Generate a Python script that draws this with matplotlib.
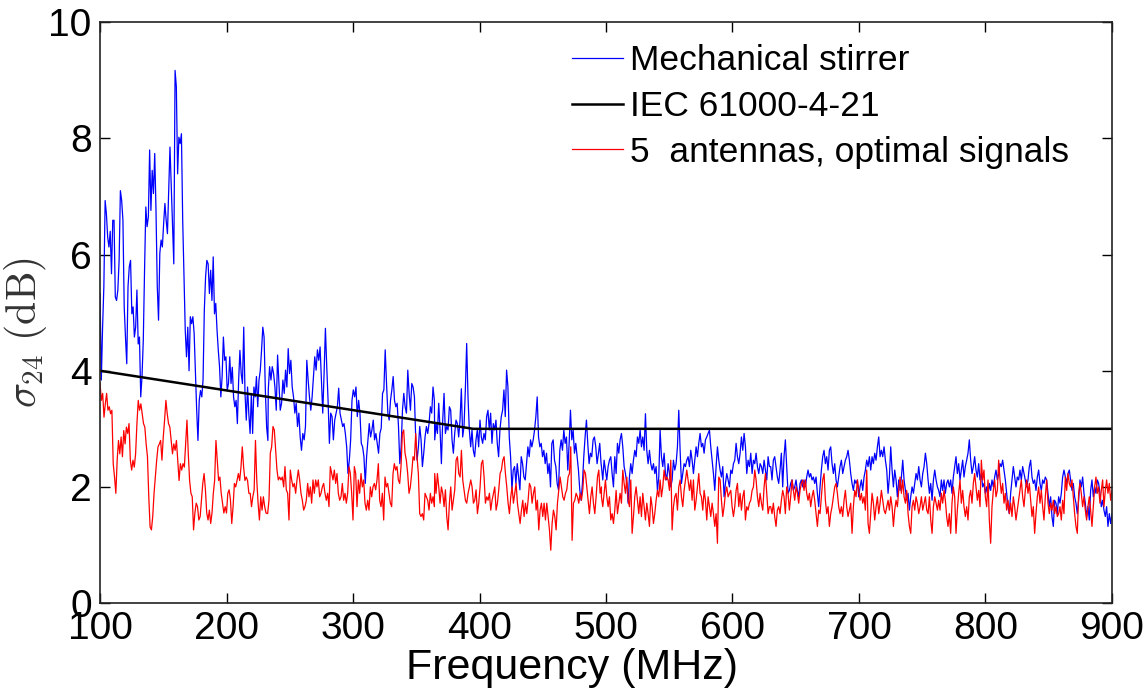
import numpy as np
import matplotlib
matplotlib.use("Agg")
import matplotlib.pyplot as plt

plt.rcParams['font.family'] = ['Liberation Sans', 'DejaVu Sans']
plt.rcParams['mathtext.fontset'] = 'cm'

# readings, split in pieces: (f start MHz, f end MHz, values in dB)
blue_segments = [
    (100.0, 232.7, [5.33, 3.84, 4.75, 5.45, 6.93, 6.7, 6.3, 6.13, 6.4, 5.67, 6.59, 6.59, 5.27, 5.21, 5.39, 5.9, 7.1, 6.93, 6.59, 5.1,
                    4.58, 4.12, 5.45, 5.79, 5.9, 4.98, 5.1, 4.58, 4.75, 5.39, 4.46, 4.58, 3.55, 3.9, 4.52, 5.73, 6.82, 6.48, 6.65, 7.8,
                    6.76, 7.45, 7.05, 7.74, 6.76, 5.45, 4.87, 6.02, 6.25, 6.13, 6.53, 6.88, 6.59, 6.36, 7.1, 7.85, 7.16, 6.48, 5.84, 9.17,
                    8.89, 7.39, 8.02, 7.91, 8.08, 6.59, 5.62, 4.7, 4.24, 4.75, 4.0, 4.93, 4.81, 4.93, 4.64, 3.95, 3.32, 2.8, 3.49, 3.66,
                    3.55, 3.84, 5.04, 5.62, 5.9, 5.84, 5.33, 5.73, 5.21, 5.96, 4.98, 5.16, 4.7, 4.35, 4.06, 3.55, 3.9, 4.58, 4.18, 4.24,
                    3.66, 3.78, 4.24, 3.78, 4.06, 3.55, 3.38, 3.49, 3.09, 3.84, 4.35, 3.95, 3.78, 4.75, 3.61, 3.15, 3.72, 3.26, 2.92, 3.61,
                    2.92, 3.72, 3.55, 3.9, 3.38, 3.84, 4.0, 4.35, 4.75, 4.58, 3.66, 3.03, 2.8]),
    (233.0, 364.3, [3.67, 4.07, 3.84, 4.07, 3.95, 3.72, 3.32, 4.27, 3.78, 3.32, 3.44, 3.84, 3.61, 4.01, 3.72, 4.38, 3.95, 4.18, 3.72, 3.55,
                    3.27, 3.44, 3.04, 3.27, 2.86, 2.63, 2.92, 2.81, 3.04, 4.18, 3.84, 3.55, 3.32, 3.55, 3.9, 4.24, 4.01, 4.36, 4.18, 4.41,
                    3.84, 3.27, 3.95, 4.73, 4.07, 3.49, 2.75, 3.27, 3.21, 2.81, 3.15, 3.27, 3.38, 3.7, 3.27, 3.15, 3.04, 3.09, 2.92, 2.69,
                    2.23, 2.46, 2.81, 3.49, 3.67, 3.55, 3.72, 3.21, 3.49, 3.27, 2.75, 2.69, 2.52, 2.06, 2.52, 2.81, 3.09, 2.86, 2.98, 3.15,
                    2.81, 2.92, 2.75, 2.58, 2.92, 3.01, 3.61, 3.67, 4.36, 3.78, 3.27, 3.15, 3.49, 3.67, 3.9, 3.49, 3.38, 3.44, 3.04, 2.4,
                    2.69, 3.32, 3.61, 3.38, 3.27, 4.01, 3.61, 3.32, 3.78, 3.72, 3.55, 2.81, 2.46, 2.69, 3.04, 2.81, 2.35, 2.58, 2.86, 3.04,
                    2.92, 3.09, 3.38, 3.27, 3.72, 3.49]),
    (364.6, 496.1, [2.81, 3.09, 2.92, 3.44, 2.98, 2.4, 3.15, 3.61, 2.92, 3.04, 2.98, 3.38, 3.32, 2.81, 2.58, 2.92, 3.15, 3.09, 2.86, 3.15,
                    3.69, 2.86, 3.04, 3.67, 4.47, 3.55, 2.98, 2.69, 2.98, 2.63, 2.52, 2.81, 2.98, 2.69, 3.15, 2.86, 2.75, 2.92, 2.81, 3.21,
                    3.32, 2.98, 3.27, 2.75, 3.09, 2.98, 3.15, 2.75, 2.52, 2.98, 3.21, 3.32, 3.67, 3.21, 4.01, 3.72, 2.86, 2.52, 1.95, 2.29,
                    2.35, 2.06, 2.4, 2.17, 1.95, 2.52, 2.4, 2.17, 2.12, 2.4, 2.69, 2.52, 2.81, 2.69, 2.81, 2.98, 3.21, 3.55, 2.86, 2.69,
                    2.75, 2.52, 2.63, 2.4, 2.58, 2.23, 2.4, 2.0, 2.75, 2.81, 2.46, 2.35, 2.06, 1.95, 2.63, 2.81, 2.63, 2.98, 2.75, 2.86,
                    2.29, 2.75, 3.32, 2.81, 2.98, 2.58, 2.75, 2.52, 2.29, 1.95, 1.77, 2.06, 2.52, 2.86, 3.15, 2.75, 2.4, 2.58, 2.52, 2.81,
                    2.86, 2.69, 2.4, 2.58, 2.75, 2.4]),
    (496.4, 629.2, [2.35, 2.12, 2.46, 2.29, 2.12, 2.35, 2.46, 2.52, 2.23, 2.0, 2.52, 2.23, 2.75, 2.58, 2.81, 2.92, 2.69, 2.35, 2.23, 2.06,
                    1.72, 2.17, 2.4, 2.23, 2.46, 2.63, 2.52, 2.86, 2.75, 2.98, 2.69, 2.86, 2.63, 3.26, 2.63, 2.4, 2.63, 2.4, 2.29, 2.4,
                    2.23, 2.35, 1.94, 2.17, 2.98, 2.52, 2.35, 2.58, 2.23, 2.12, 2.4, 2.23, 2.0, 2.12, 2.46, 2.29, 2.4, 2.69, 3.32, 2.63,
                    2.06, 2.23, 2.4, 2.35, 2.46, 2.52, 2.35, 2.63, 2.46, 2.23, 2.46, 2.69, 2.52, 2.75, 2.92, 2.69, 2.75, 2.58, 2.81, 2.86,
                    2.92, 2.98, 2.69, 2.46, 2.23, 1.94, 2.35, 2.69, 2.46, 2.29, 2.17, 2.35, 1.83, 2.06, 2.23, 2.12, 2.0, 2.29, 2.23, 2.4,
                    2.46, 2.75, 2.52, 2.4, 2.58, 2.86, 2.63, 2.92, 2.69, 2.23, 2.46, 2.35, 2.58, 2.23, 2.46, 2.4, 2.58, 2.35, 2.23, 2.4,
                    2.35, 2.23, 2.46, 2.29, 2.12, 2.52, 2.35]),
    (630.2, 762.0, [2.35, 2.12, 2.46, 2.52, 2.35, 2.17, 2.06, 2.29, 2.58, 2.0, 2.52, 2.81, 2.35, 1.89, 1.94, 2.06, 2.12, 1.94, 2.0, 2.12,
                    1.94, 1.83, 2.06, 2.12, 2.0, 2.12, 2.0, 2.17, 2.29, 2.17, 2.23, 2.12, 2.17, 2.06, 2.17, 1.89, 1.66, 2.0, 2.29, 2.52,
                    2.63, 2.4, 2.52, 2.29, 2.63, 2.69, 2.4, 2.23, 2.4, 2.12, 2.0, 2.17, 2.35, 2.46, 2.23, 2.35, 2.46, 2.52, 2.63, 2.46,
                    2.23, 2.06, 1.94, 2.12, 2.06, 2.12, 1.83, 2.0, 2.12, 1.94, 2.17, 2.29, 2.46, 2.35, 2.52, 2.29, 2.52, 2.4, 2.58, 2.46,
                    2.69, 2.86, 2.52, 2.63, 2.52, 2.69, 2.46, 2.29, 1.89, 2.17, 2.69, 2.29, 2.0, 2.29, 2.12, 1.83, 2.12, 1.94, 2.17, 2.46,
                    2.12, 1.94, 1.77, 1.89, 1.6, 1.83, 2.0, 1.89, 2.06, 2.23, 2.12, 2.35, 2.12, 2.0, 2.23, 2.35, 2.58, 2.4, 2.12, 1.89,
                    2.06, 1.77, 2.12, 2.29, 2.12, 2.0]),
    (763.0, 900.0, [1.94, 1.83, 2.12, 1.94, 2.12, 1.89, 2.06, 2.12, 2.0, 2.12, 1.89, 2.17, 2.35, 2.52, 2.23, 2.4, 2.12, 2.29, 2.46, 2.17,
                    2.35, 2.46, 2.58, 2.81, 2.46, 2.23, 2.35, 2.52, 2.29, 2.17, 2.4, 2.12, 2.23, 2.0, 2.06, 1.89, 2.0, 1.83, 2.06, 1.94,
                    2.12, 2.0, 2.17, 2.29, 2.12, 2.23, 2.4, 2.35, 2.46, 2.29, 2.12, 1.89, 1.66, 1.54, 1.89, 2.12, 2.35, 2.17, 2.0, 2.17,
                    2.12, 2.29, 2.12, 2.35, 2.23, 2.12, 2.0, 2.12, 2.35, 2.46, 2.17, 2.06, 2.12, 1.94, 2.17, 2.29, 2.06, 1.94, 2.12, 2.06,
                    2.17, 2.12, 1.89, 1.66, 1.83, 1.49, 1.32, 1.77, 1.72, 1.54, 1.83, 1.72, 1.89, 2.17, 2.29, 2.17, 2.06, 2.23, 2.29, 2.12,
                    1.94, 2.06, 1.83, 1.72, 1.54, 1.77, 2.12, 2.0, 2.17, 1.89, 1.72, 1.49, 1.66, 1.43, 1.94, 2.12, 1.83, 2.0, 1.89, 2.12,
                    2.06, 1.89, 1.66, 1.77, 1.6, 1.49, 1.66, 1.32, 1.54, 1.37, 1.54]),
]

red_segments = [
    (100.0, 231.2, [3.78, 3.49, 3.61, 3.2, 3.43, 3.61, 3.32, 3.38, 3.26, 3.32, 2.4, 2.17, 1.89, 2.46, 2.8, 2.57, 2.86, 2.52, 2.97, 2.74,
                    3.03, 2.92, 3.09, 2.46, 2.29, 2.46, 2.34, 2.57, 3.09, 3.49, 3.32, 3.43, 3.26, 3.09, 3.03, 2.74, 2.52, 1.83, 1.31, 1.26,
                    1.49, 1.89, 2.17, 2.46, 2.69, 2.74, 2.8, 2.46, 2.86, 3.15, 3.49, 3.26, 3.09, 3.03, 2.8, 2.57, 2.74, 2.63, 2.8, 2.46,
                    2.11, 2.4, 2.29, 2.4, 2.34, 2.74, 3.15, 2.57, 2.11, 1.89, 1.83, 1.26, 1.55, 1.72, 1.66, 1.43, 1.49, 1.78, 2.06, 2.23,
                    1.95, 1.55, 1.43, 1.6, 1.37, 1.55, 1.89, 2.11, 2.8, 2.46, 2.11, 2.17, 1.89, 1.72, 1.55, 1.66, 1.55, 1.89, 1.95, 1.78,
                    1.37, 1.66, 2.06, 2.0, 2.11, 2.23, 2.11, 2.34, 2.69, 2.34, 2.11, 2.17, 2.11, 1.89, 1.89, 1.66, 1.83, 1.95, 2.8, 2.11,
                    1.72, 1.43, 1.83, 1.6, 1.83, 1.66, 1.55]),
    (232.5, 364.3, [1.54, 1.77, 2.58, 2.69, 3.04, 2.98, 2.63, 2.29, 2.12, 2.17, 2.12, 2.17, 2.0, 2.35, 1.95, 1.89, 1.43, 2.29, 2.12, 2.0,
                    2.06, 1.89, 2.12, 2.29, 2.12, 1.89, 1.77, 1.6, 1.66, 1.77, 2.06, 1.83, 2.0, 1.72, 2.12, 1.89, 2.12, 2.0, 2.12, 1.83,
                    1.89, 2.0, 2.06, 1.89, 1.77, 1.89, 1.66, 2.35, 2.23, 2.12, 2.29, 2.06, 2.23, 1.89, 1.77, 1.83, 2.06, 1.77, 1.89, 1.72,
                    1.89, 2.35, 2.23, 1.89, 1.43, 2.35, 2.23, 1.66, 2.12, 1.89, 2.23, 2.0, 2.12, 1.72, 1.6, 1.77, 1.6, 2.0, 1.83, 2.0,
                    2.06, 1.95, 2.12, 2.4, 1.77, 1.66, 1.89, 1.43, 2.17, 2.0, 2.06, 1.89, 1.72, 1.66, 2.23, 2.4, 2.29, 2.35, 2.12, 2.06,
                    2.35, 2.92, 2.98, 2.58, 2.46, 2.23, 1.89, 2.0, 2.23, 2.52, 2.46, 2.92, 2.52, 2.23, 1.54, 1.49, 1.54, 1.43, 1.89, 1.83,
                    1.77, 1.6, 1.89, 1.72, 1.83, 1.66]),
    (364.6, 496.4, [2.23, 1.89, 2.23, 2.0, 1.72, 2.0, 1.89, 1.66, 1.95, 1.49, 1.26, 1.72, 2.0, 1.6, 1.77, 1.95, 2.46, 2.52, 2.23, 2.17,
                    2.63, 2.12, 1.95, 1.77, 1.72, 1.89, 2.0, 2.12, 2.0, 1.72, 1.77, 1.95, 1.54, 1.72, 2.0, 2.4, 2.46, 2.17, 1.72, 1.83,
                    1.77, 1.89, 1.6, 1.77, 1.89, 2.0, 1.6, 1.72, 1.95, 2.23, 2.29, 2.46, 2.52, 2.23, 2.0, 1.72, 1.54, 1.83, 2.0, 1.72,
                    1.89, 2.06, 1.72, 1.54, 1.37, 1.6, 1.77, 1.49, 1.72, 1.54, 1.77, 2.06, 2.0, 1.72, 1.89, 2.0, 1.6, 1.77, 1.26, 1.6,
                    1.72, 1.49, 1.72, 1.43, 1.72, 1.49, 1.26, 0.91, 1.37, 1.6, 1.49, 1.26, 1.72, 1.95, 2.17, 2.0, 1.83, 1.77, 1.89, 1.95,
                    2.17, 2.23, 2.69, 1.08, 1.72, 1.77, 1.89, 1.83, 1.72, 1.89, 1.77, 1.95, 2.29, 2.23, 2.0, 1.77, 1.54, 1.83, 2.0, 1.72,
                    1.54, 1.83, 2.17, 2.29, 1.89, 2.0]),
    (496.4, 629.2, [1.83, 1.66, 1.89, 2.12, 1.83, 1.66, 1.83, 1.43, 1.54, 1.37, 1.6, 1.94, 1.54, 1.72, 1.89, 1.72, 2.29, 2.06, 1.89, 2.17,
                    1.77, 1.66, 2.12, 1.2, 1.49, 1.83, 2.0, 1.77, 1.54, 1.83, 1.49, 1.89, 1.66, 1.43, 1.72, 1.54, 1.32, 1.83, 1.66, 1.37,
                    1.54, 1.77, 1.94, 1.83, 2.12, 1.83, 2.0, 2.29, 2.12, 2.17, 2.12, 1.94, 2.46, 1.26, 1.66, 1.83, 1.89, 1.6, 2.0, 2.12,
                    1.83, 1.66, 1.94, 2.12, 2.29, 2.12, 1.94, 2.12, 1.77, 2.12, 1.6, 1.77, 2.0, 2.23, 1.89, 1.83, 1.6, 1.94, 1.77, 1.43,
                    1.83, 1.66, 1.49, 1.72, 1.54, 1.32, 1.54, 1.03, 2.17, 2.12, 1.77, 1.49, 1.66, 1.89, 2.0, 1.83, 1.89, 1.94, 1.66, 1.49,
                    1.66, 1.94, 2.06, 1.66, 1.89, 1.6, 1.83, 1.94, 1.43, 1.66, 1.6, 1.72, 1.77, 1.94, 2.0, 2.29, 2.12, 1.83, 1.66, 1.89,
                    1.72, 1.6, 2.0, 2.23, 1.89, 1.54, 1.66]),
    (630.2, 762.0, [1.66, 1.54, 1.72, 1.49, 1.32, 1.6, 1.66, 1.54, 1.77, 1.94, 1.83, 1.54, 2.0, 1.89, 1.6, 1.83, 2.12, 1.94, 1.77, 2.0,
                    1.89, 1.72, 1.94, 2.06, 2.12, 1.94, 2.12, 1.89, 1.77, 1.89, 1.66, 1.83, 1.94, 1.77, 1.54, 1.32, 1.6, 1.54, 1.83, 2.12,
                    2.23, 1.77, 1.54, 1.66, 1.32, 1.54, 1.66, 1.83, 2.0, 2.06, 1.89, 1.66, 1.54, 1.66, 1.49, 1.77, 1.94, 1.66, 1.49, 1.6,
                    1.72, 1.2, 1.66, 1.94, 1.83, 2.12, 1.94, 1.77, 1.89, 1.72, 1.83, 1.6, 2.29, 1.37, 1.2, 1.54, 1.89, 1.72, 1.43, 1.66,
                    1.83, 1.54, 1.72, 1.94, 1.77, 1.6, 1.54, 1.66, 1.77, 1.6, 1.83, 1.66, 1.32, 1.6, 1.77, 1.66, 1.94, 2.17, 1.89, 2.12,
                    1.83, 1.72, 1.94, 1.54, 1.32, 1.2, 1.66, 1.77, 1.6, 1.83, 1.72, 1.54, 1.66, 1.83, 1.6, 1.72, 1.83, 1.6, 1.54, 1.83,
                    1.43, 1.2, 1.66, 1.83, 1.72, 1.6]),
    (763.0, 900.0, [1.77, 1.6, 1.89, 1.72, 1.94, 1.77, 1.49, 1.32, 1.54, 1.2, 1.72, 2.0, 1.83, 1.2, 1.6, 1.89, 2.12, 1.72, 1.94, 1.66,
                    1.49, 1.66, 1.43, 1.83, 1.94, 1.72, 2.06, 2.23, 2.0, 1.77, 1.94, 1.66, 2.46, 2.12, 2.29, 1.83, 1.66, 2.12, 1.43, 1.03,
                    1.66, 1.94, 2.12, 1.83, 1.94, 2.46, 2.12, 1.89, 2.06, 1.72, 1.89, 1.6, 1.77, 1.54, 1.72, 1.49, 1.83, 1.66, 1.43, 1.6,
                    1.77, 1.94, 2.12, 1.83, 1.66, 1.94, 2.12, 1.89, 2.06, 1.77, 1.49, 1.66, 1.2, 1.54, 1.83, 2.0, 1.72, 1.94, 1.66, 1.43,
                    1.83, 2.12, 1.72, 1.54, 1.72, 1.6, 1.77, 1.54, 1.66, 1.49, 1.54, 1.66, 1.43, 1.77, 1.54, 2.17, 1.94, 2.23, 2.06, 2.0,
                    2.12, 1.83, 1.54, 1.32, 1.2, 1.89, 2.06, 1.89, 1.66, 1.83, 1.6, 1.43, 1.66, 1.83, 1.6, 1.32, 1.66, 2.0, 2.17, 1.89,
                    2.0, 1.72, 1.94, 2.12, 1.66, 1.94, 2.12, 1.89, 2.06, 1.77, 1.94]),
]

# IEC 61000-4-21 limit, corner points
iec_freq = [100, 395, 900]
iec_sigma = [4.0, 3.0, 3.0]

labels = ["Mechanical stirrer", "IEC 61000-4-21", "5  antennas, optimal signals"]


def join_segments(segments):
    ff, vv = [], []
    for f0, f1, vals in segments:
        ff.append(np.linspace(f0, f1, len(vals)))
        vv.append(np.array(vals))
    return np.concatenate(ff), np.concatenate(vv)


f_blue, s_blue = join_segments(blue_segments)
f_red, s_red = join_segments(red_segments)

fig = plt.figure(figsize=(11.46, 6.94), dpi=100)
ax = fig.add_axes([0.0873, 0.131, 0.883, 0.837])

ax.plot(f_blue, s_blue, color="#0000ff", lw=0.9, label=labels[0])
ax.plot(iec_freq, iec_sigma, color="black", lw=1.8, label=labels[1])
ax.plot(f_red, s_red, color="#ff0000", lw=0.9, label=labels[2])

ax.set_xlim(100, 900)
ax.set_ylim(0, 10)
ax.set_xticks(range(100, 901, 100))
ax.set_yticks(range(0, 11, 2))
ax.tick_params(direction="in", top=True, right=True, length=7, width=1,
               labelsize=28, pad=6)
for sp in ax.spines.values():
    sp.set_linewidth(1.2)
    sp.set_color("#222222")

ax.set_xlabel("Frequency (MHz)", fontsize=31)
ax.xaxis.set_label_coords(0.466, -0.078)
ax.set_ylabel(r"$\sigma_{24}\ \mathrm{(dB)}$", fontsize=30, color="#333333")
ax.yaxis.set_label_coords(-0.05, 0.466)

leg = ax.legend(loc="upper left", bbox_to_anchor=(0.466, 0.962), frameon=False,
                fontsize=25.5, handlelength=1.45, handletextpad=0.2,
                labelspacing=0.36, borderpad=0, borderaxespad=0)

fig.savefig("out.png", dpi=100)
